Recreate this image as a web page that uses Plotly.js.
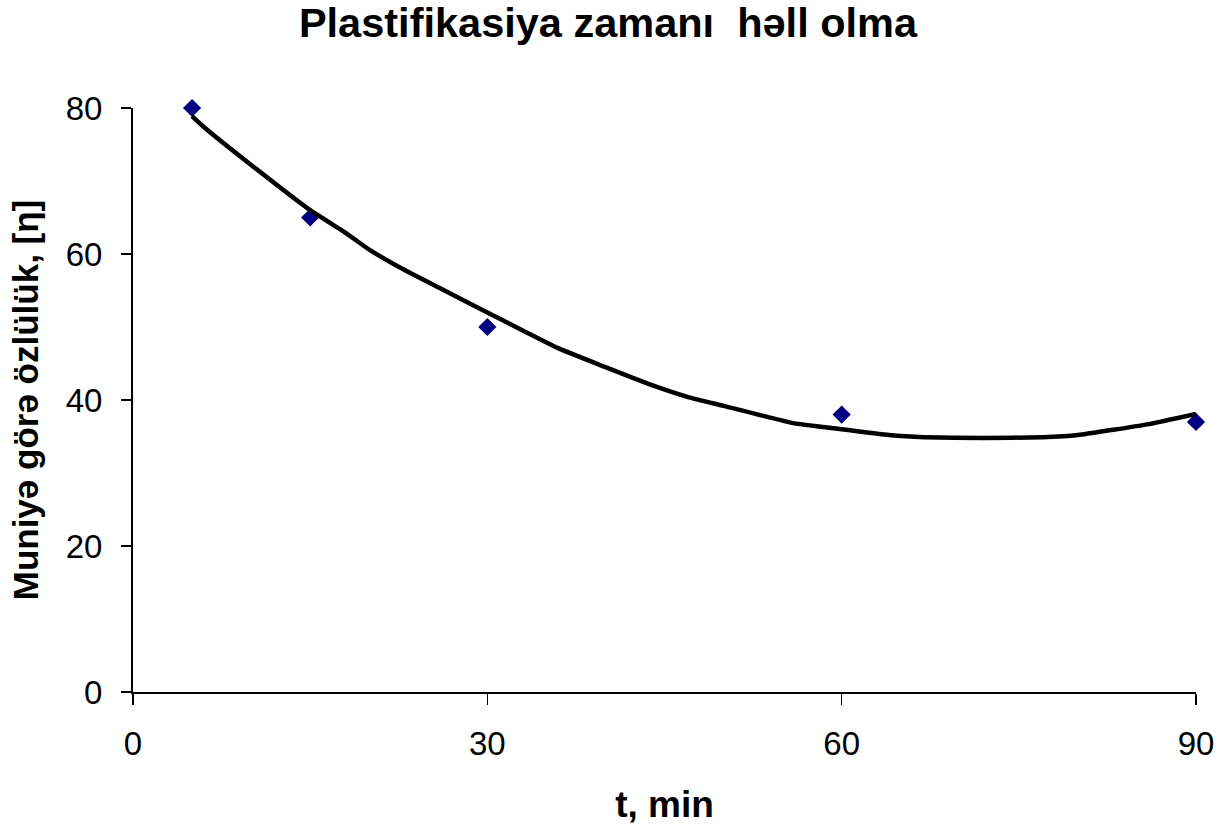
<!DOCTYPE html>
<html>
<head>
<meta charset="utf-8">
<script src="https://cdn.plot.ly/plotly-3.0.1.min.js"></script>
<style>html,body{margin:0;padding:0;background:#fff;}#chart{width:1219px;height:826px;}</style>
</head>
<body>
<div id="chart"></div>
<script>
// Measured points
const timeMin = [5, 15, 30, 60, 90];
const viscosity = [80, 65, 50, 38, 37];
// Trendline values
const trendX = [5, 6, 10, 15, 18, 20, 23, 26, 30, 36, 40, 44, 47, 50, 56, 59, 64, 67, 72, 77, 80, 86, 90];
const trendY = [78.9, 77.4, 72.2, 66.0, 62.9, 60.6, 57.8, 55.3, 52.0, 47.1, 44.5, 42.0, 40.4, 39.2, 36.8, 36.2, 35.2, 34.9, 34.8, 34.9, 35.2, 36.7, 38.1];
const xTicks = [0, 30, 60, 90];
const yTicks = [0, 20, 40, 60, 80];

const FONT = 'Liberation Sans, Arial, sans-serif';

const traces = [
  {
    x: timeMin, y: viscosity, type: 'scatter', mode: 'markers',
    marker: {symbol: 'diamond', size: 14, color: '#000080'},
    cliponaxis: false, hoverinfo: 'x+y', showlegend: false
  },
  {
    x: trendX, y: trendY, type: 'scatter', mode: 'lines',
    line: {color: '#000000', width: 4.5, shape: 'spline', smoothing: 0.4},
    cliponaxis: false, hoverinfo: 'skip', showlegend: false
  }
];

const layout = {
  width: 1219, height: 826,
  paper_bgcolor: '#ffffff', plot_bgcolor: '#ffffff',
  margin: {l: 133, r: 23, t: 108, b: 134, pad: 0},
  showlegend: false,
  font: {family: FONT, color: '#000000'},
  title: {
    text: '<b>Plastifikasiya zamanı  həll olma</b>',
    font: {family: FONT, size: 41.5, color: '#000'},
    x: 608 / 1219, xref: 'container', xanchor: 'center',
    y: 1 - 22 / 826, yref: 'container', yanchor: 'middle'
  },
  xaxis: {
    range: [0, 90], tickvals: xTicks, ticktext: xTicks.map(String),
    showgrid: false, zeroline: false,
    showline: true, linecolor: '#000', linewidth: 2,
    ticks: 'outside', ticklen: 11, tickwidth: 1.5, tickcolor: '#000',
    tickfont: {family: FONT, size: 33, color: '#000'},
    ticklabelstandoff: 10,
    title: {text: '<b>t, min</b>', font: {family: FONT, size: 37, color: '#000'}, standoff: 31},
    automargin: false, fixedrange: true
  },
  yaxis: {
    range: [0, 80], tickvals: yTicks, ticktext: yTicks.map(String),
    showgrid: false, zeroline: false,
    showline: true, linecolor: '#000', linewidth: 2,
    ticks: 'outside', ticklen: 10, tickwidth: 1.5, tickcolor: '#000',
    tickfont: {family: FONT, size: 33, color: '#000'},
    ticklabelstandoff: 12,
    title: {text: '<b>Muniyə görə özlülük, [η]</b>', font: {family: FONT, size: 35, color: '#000'}, standoff: 16},
    automargin: false, fixedrange: true
  }
};

Plotly.newPlot('chart', traces, layout, {displayModeBar: false, staticPlot: true});
</script>
</body>
</html>
